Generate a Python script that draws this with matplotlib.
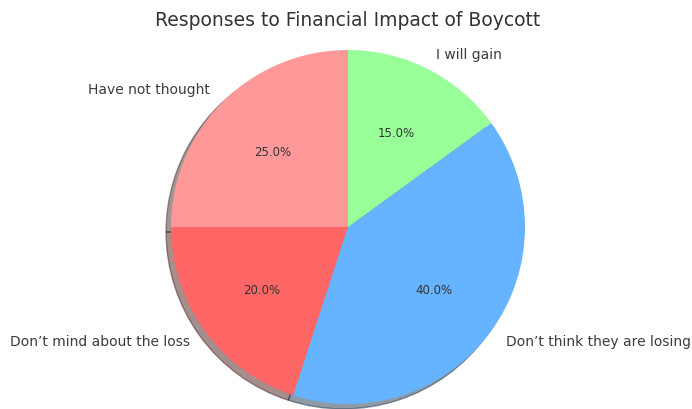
import matplotlib
matplotlib.use('Agg')
import matplotlib.pyplot as plt

labels = ['Have not thought', 'Don’t mind about the loss',
          'Don’t think they are losing', 'I will gain']
sizes = [25, 20, 40, 15]
colors = ['#ff9999', '#ff6666', '#66b3ff', '#99ff99']

fig = plt.figure(figsize=(6.92, 4.10), dpi=100)
ax = fig.add_axes([0, 0, 1, 1])

wedges, texts, autotexts = ax.pie(sizes, labels=labels, colors=colors,
                                  autopct='%1.1f%%', startangle=90,
                                  shadow=True,
                                  textprops={'color': '#3c3c3c', 'fontsize': 10})
for t in autotexts:
    t.set_fontsize(8.5)
    t.set_color('#333333')

# pixel-based limits so the circle stays round and sits where wanted
r = 177.0
cx, cy = 348.0, 410 - 228.0
ax.set_xlim(-cx / r, (692 - cx) / r)
ax.set_ylim(-cy / r, (410 - cy) / r)
ax.set_aspect('auto')
ax.axis('off')

fig.text(0.503, 1 - 21 / 410, 'Responses to Financial Impact of Boycott',
         ha='center', va='center', fontsize=13.5, color='#333333')

fig.savefig('out.png', dpi=100)
